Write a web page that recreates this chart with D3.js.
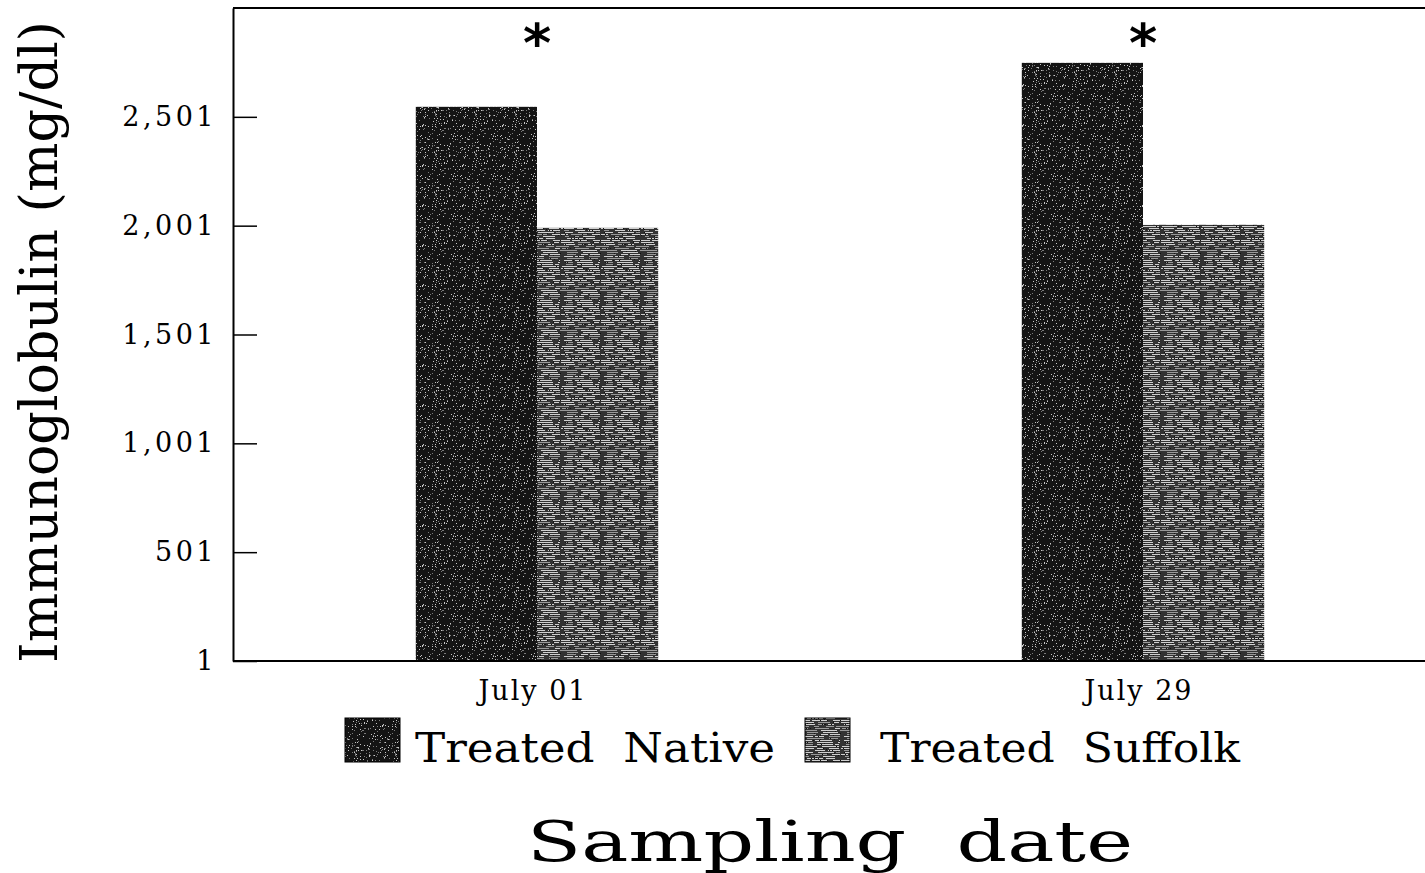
<!DOCTYPE html>
<html><head><meta charset="utf-8">
<script src="https://cdn.jsdelivr.net/npm/d3@7"></script>
<style>body{margin:0;background:#fff}svg{display:block}</style>
</head><body>
<script>
const categories = ["July 01", "July 29"];
const seriesNames = ["Treated Native", "Treated Suffolk"];
const nativeValues = [2547, 2749];
const suffolkValues = [1991, 2005];
const significant = [true, true];
const yTicks = [1, 501, 1001, 1501, 2001, 2501];

(function(){
const W = 1425, H = 873;
const svg = d3.select("body").append("svg").attr("width", W).attr("height", H);
const FONT = "DejaVu Serif";

// patterns
const defs = svg.append("defs");
function seeded(s){return function(){s=(s*16807)%2147483647;return (s-1)/2147483646;};}
{
  const r = seeded(7);
  const p = defs.append("pattern").attr("id","pNative").attr("patternUnits","userSpaceOnUse").attr("width",40).attr("height",40);
  p.append("rect").attr("width",40).attr("height",40).attr("fill","#141414");
  for(let i=0;i<170;i++){p.append("rect").attr("x",Math.floor(r()*40)).attr("y",Math.floor(r()*40)).attr("width",1).attr("height",1).attr("fill", r()<0.5?"#c8c8c8":"#7a7a7a");}
}
{
  const r = seeded(11);
  const p = defs.append("pattern").attr("id","pSuffolk").attr("patternUnits","userSpaceOnUse").attr("width",40).attr("height",40);
  p.append("rect").attr("width",40).attr("height",40).attr("fill","#333");
  for(let yy=0;yy<40;yy+=2){
    let xs = Math.floor(r()*8);
    while (xs < 40) {
      const w = 4 + Math.floor(r()*14);
      p.append("rect").attr("x",xs).attr("y",yy).attr("width",w).attr("height",1).attr("fill", r()<0.6?"#d0d0d0":"#9a9a9a");
      xs += w + 2 + Math.floor(r()*6);
    }
  }
  for(let i=0;i<60;i++){p.append("rect").attr("x",Math.floor(r()*40)).attr("y",Math.floor(r()*40)).attr("width",1).attr("height",1).attr("fill","#111");}
}

const mLeft = 233, mTop = 8, mBottom = 661, mRight = 1446;
const y = d3.scaleLinear().domain([1, 3001]).range([mBottom, mTop]);
const x0 = d3.scaleBand().domain(categories).range([mLeft + 1, mRight]).paddingInner(0).paddingOuter(0);
const x1 = d3.scaleBand().domain(seriesNames).range([0, x0.bandwidth()]).paddingInner(0).paddingOuter(1.5);
const color = d3.scaleOrdinal().domain(seriesNames).range(["url(#pNative)", "url(#pSuffolk)"]);

const rows = categories.map((c, i) => ({cat: c, vals: [nativeValues[i], suffolkValues[i]], sig: significant[i]}));

const g = svg.append("g");
rows.forEach(r => {
  r.vals.forEach((v, j) => {
    g.append("rect")
      .attr("x", x0(r.cat) + x1(seriesNames[j]))
      .attr("y", y(v))
      .attr("width", x1.bandwidth())
      .attr("height", y(1) - y(v))
      .attr("fill", color(seriesNames[j]));
  });
  if (r.sig) {
    svg.append("text").attr("x", x0(r.cat) + x0.bandwidth()/2).attr("y", 62)
      .attr("text-anchor","middle").attr("font-family","DejaVu Sans").attr("font-weight","bold").attr("font-size",54).attr("fill","#000").text("*");
  }
});

svg.append("line").attr("x1",mLeft).attr("x2",W).attr("y1",mTop).attr("y2",mTop).attr("stroke","#000").attr("stroke-width",2);
svg.append("line").attr("x1",mLeft).attr("x2",W).attr("y1",mBottom).attr("y2",mBottom).attr("stroke","#000").attr("stroke-width",2);

const yAxis = d3.axisLeft(y).tickValues(yTicks).tickFormat(d3.format(",")).tickSize(-24).tickSizeOuter(0).tickPadding(16);
const ya = svg.append("g").attr("transform", `translate(${mLeft},0)`).call(yAxis);
ya.select(".domain").attr("stroke","#000").attr("stroke-width",2);
ya.selectAll(".tick line").attr("stroke","#000").attr("stroke-width",1.5);
ya.selectAll(".tick text").attr("font-family",FONT).attr("font-size",27).attr("fill","#000").attr("letter-spacing",3.5);

const xAxis = d3.axisBottom(x0).tickSize(0).tickPadding(0);
const xa = svg.append("g").attr("transform", `translate(-4,${mBottom})`).call(xAxis);
xa.select(".domain").remove();
xa.selectAll(".tick text").attr("font-family",FONT).attr("font-size",27).attr("fill","#000").attr("dy",0).attr("y",39).attr("letter-spacing",2);

svg.append("text").attr("transform","translate(57,342) rotate(-90)").attr("text-anchor","middle")
  .attr("font-family",FONT).attr("font-size",52).attr("fill","#000")
  .attr("textLength",642).attr("lengthAdjust","spacingAndGlyphs").text("Immunoglobulin (mg/dl)");

const legendItems = [
  {name: seriesNames[0], sx: 345, sw: 55, tx: 415, tw: 360},
  {name: seriesNames[1], sx: 805, sw: 45, tx: 880, tw: 360}
];
legendItems.forEach(it => {
  svg.append("rect").attr("x",it.sx).attr("y",718).attr("width",it.sw).attr("height",44).attr("fill",color(it.name)).attr("stroke","#000").attr("stroke-width",1);
  svg.append("text").attr("x",it.tx).attr("y",762).attr("font-family",FONT).attr("font-size",41).attr("fill","#000")
    .attr("textLength",it.tw).attr("lengthAdjust","spacingAndGlyphs").text(it.name.replace(" ","\u00a0\u00a0"));
});

svg.append("text").attr("x",527).attr("y",861).attr("font-family",FONT).attr("font-size",56).attr("fill","#000")
  .attr("textLength",606).attr("lengthAdjust","spacingAndGlyphs").text("Sampling\u00a0\u00a0date");
})();
</script>
</body></html>
